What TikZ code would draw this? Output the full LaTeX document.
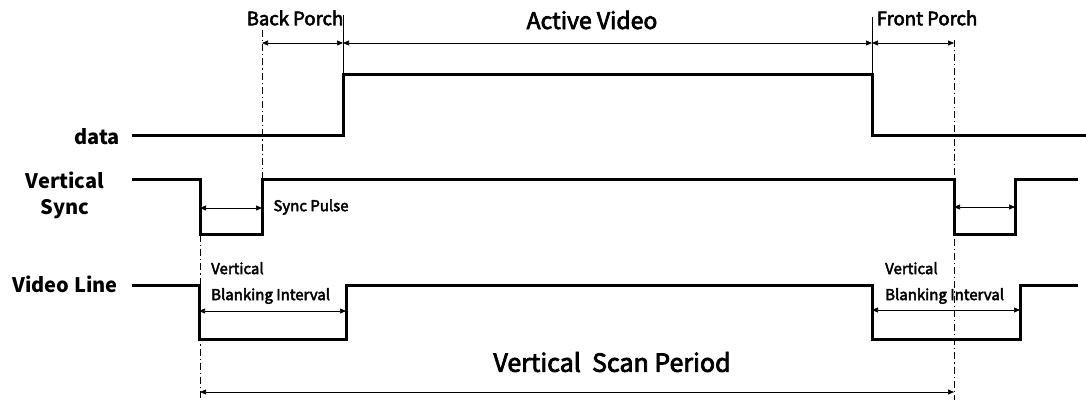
\documentclass[tikz,border=0pt]{standalone}
\usepackage{fontspec}
\setmainfont{Noto Sans CJK SC}
\newfontfamily\medfont[FakeBold=3]{Noto Sans CJK SC}
\usetikzlibrary{arrows.meta}
\begin{document}
\begin{tikzpicture}[x=1pt,y=-1pt,
  signal/.style={line width=3pt,line join=miter,line cap=rect},
  guide/.style={line width=0.9pt,dash pattern=on 7pt off 3pt on 1.2pt off 3pt},
  tick/.style={line width=0.9pt},
  dim/.style={line width=0.7pt,{Triangle[length=6pt,width=5pt]}-{Triangle[length=6pt,width=5pt]}},
  lbl/.style={inner sep=0pt,font=\medfont\fontsize{20}{24}\selectfont},
  side/.style={inner sep=0pt,font=\fontsize{20}{26}\selectfont\bfseries,align=center},
  toplbl/.style={inner sep=0pt,font=\medfont\fontsize{18.5}{22}\selectfont},
  small/.style={inner sep=0pt,font=\medfont\fontsize{15}{26}\selectfont,align=left}]
\useasboundingbox (0,0) rectangle (1086,403);
% signals
\coordinate (d0) at (133,136); \coordinate (d1) at (343,136); \coordinate (d2) at (343,75);
\coordinate (d3) at (872,75); \coordinate (d4) at (872,136); \coordinate (d5) at (1086,136);
\draw[signal] (d0) -- (d1) -- (d2) -- (d3) -- (d4) -- (d5);
\coordinate (s0) at (133,180); \coordinate (s1) at (200,180); \coordinate (s2) at (200,235);
\coordinate (s3) at (262,235); \coordinate (s4) at (262,180); \coordinate (s5) at (954,180);
\coordinate (s6) at (954,235); \coordinate (s7) at (1015,235); \coordinate (s8) at (1015,180);
\coordinate (s9) at (1076,180);
\draw[signal] (s0) -- (s1) -- (s2) -- (s3) -- (s4) -- (s5) -- (s6) -- (s7) -- (s8) -- (s9);
\coordinate (v0) at (133,285); \coordinate (v1) at (199,285); \coordinate (v2) at (199,339);
\coordinate (v3) at (346,339); \coordinate (v4) at (346,285); \coordinate (v5) at (872,285);
\coordinate (v6) at (872,339); \coordinate (v7) at (1020,339); \coordinate (v8) at (1020,285);
\coordinate (v9) at (1076,285);
\draw[signal] (v0) -- (v1) -- (v2) -- (v3) -- (v4) -- (v5) -- (v6) -- (v7) -- (v8) -- (v9);
% guides
\coordinate (gA) at (262,30); \coordinate (gB) at (200,400); \coordinate (gC) at (954,40); \coordinate (gD) at (954,400);
\draw[guide] (gA) -- (s4);
\draw[guide] (s2) -- (gB);
\draw[guide] (gC) -- (gD);
\coordinate (tA) at (343,15); \coordinate (tB) at (872,17);
\draw[tick] (tA) -- (d2);
\draw[tick] (tB) -- (d3);
% dimension arrows
\coordinate (a1) at (262,43); \coordinate (a2) at (343,43); \coordinate (a3) at (872,43); \coordinate (a4) at (954,43);
\draw[dim] (a1) -- (a2);
\draw[dim] (a2) -- (a3);
\draw[dim] (a3) -- (a4);
\coordinate (p1) at (200,208); \coordinate (p2) at (262,208);
\coordinate (p3) at (954,207); \coordinate (p4) at (1015,207);
\draw[dim] (p1) -- (p2);
\draw[dim] (p3) -- (p4);
\coordinate (b1) at (199,311); \coordinate (b2) at (346,311);
\coordinate (b3) at (872,310); \coordinate (b4) at (1020,310);
\draw[dim] (b1) -- (b2);
\draw[dim] (b3) -- (b4);
\coordinate (c1) at (200,392); \coordinate (c2) at (954,392);
\draw[dim] (c1) -- (c2);
% labels
\node[side] (ldata) at (97,137) {data};
\node[side] (lsync) at (65,195) {Vertical\\Sync};
\node[side] (lvideo) at (65,284) {Video Line};
\node[toplbl] (lbp) at (295,18) {Back Porch};
\node[lbl,font=\medfont\fontsize{23}{27}\selectfont] (lav) at (592,20) {Active Video};
\node[toplbl] (lfp) at (927,18) {Front Porch};
\node[small] (lsp) at (311,207) {Sync Pulse};
\node[small,anchor=west] (lvb1) at (211,283) {Vertical\\Blanking Interval};
\node[small,anchor=west] (lvb2) at (885,283) {Vertical\\Blanking Interval};
\node[lbl,font=\medfont\fontsize{25}{30}\selectfont] (lvsp) at (612,362) {Vertical\ \ Scan Period};
\end{tikzpicture}
\end{document}
